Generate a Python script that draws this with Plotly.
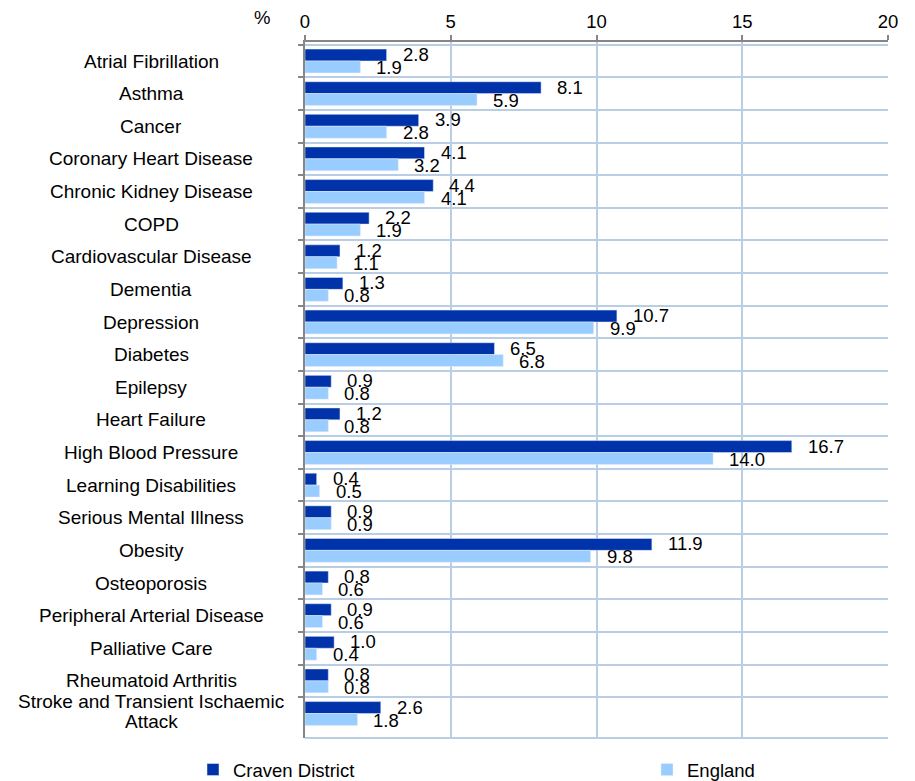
import plotly.graph_objects as go

categories = [
    "Atrial Fibrillation", "Asthma", "Cancer", "Coronary Heart Disease",
    "Chronic Kidney Disease", "COPD", "Cardiovascular Disease", "Dementia",
    "Depression", "Diabetes", "Epilepsy", "Heart Failure",
    "High Blood Pressure", "Learning Disabilities", "Serious Mental Illness",
    "Obesity", "Osteoporosis", "Peripheral Arterial Disease",
    "Palliative Care", "Rheumatoid Arthritis",
    "Stroke and Transient Ischaemic<br>Attack",
]
craven = [2.8, 8.1, 3.9, 4.1, 4.4, 2.2, 1.2, 1.3, 10.7, 6.5, 0.9, 1.2,
          16.7, 0.4, 0.9, 11.9, 0.8, 0.9, 1.0, 0.8, 2.6]
england = [1.9, 5.9, 2.8, 3.2, 4.1, 1.9, 1.1, 0.8, 9.9, 6.8, 0.8, 0.8,
           14.0, 0.5, 0.9, 9.8, 0.6, 0.6, 0.4, 0.8, 1.8]
x_ticks = [0, 5, 10, 15, 20]

DARK = "#0033AA"
LIGHT = "#99CCFF"
GRID = "#B9CDE5"
AXIS = "#868686"
FONT = "Liberation Sans, Arial, sans-serif"
FS = 19
FS_NUM = 18.5

# page body adds an 8px offset, so the figure is 8px smaller
OFF = 8
W, H = 915 - OFF, 781 - OFF
ML, MR, MT, MB = 305 - OFF, 27, 42 - OFF, 43
PW = W - ML - MR
PH = H - MT - MB


def px_x(sx):
    return (sx - OFF - ML) / PW


def px_y(sy):
    return (H - MB - (sy - OFF)) / PH


fig = go.Figure()
fig.add_trace(go.Bar(y=categories, x=craven, name="Craven District",
                     orientation="h", marker_color=DARK, legend="legend"))
fig.add_trace(go.Bar(y=categories, x=england, name="England",
                     orientation="h", marker_color=LIGHT, legend="legend2"))

annotations = []
for cat in categories:
    lines = cat.split("<br>")
    n = len(lines)
    for i, line in enumerate(lines):
        shift = ((n - 1) / 2 - i) * 20 + (2 if n > 1 else 0)
        annotations.append(dict(x=px_x(151), y=cat, xref="paper", yref="y",
                                text=line, showarrow=False, xanchor="center",
                                yshift=shift,
                                font=dict(size=FS, color="black", family=FONT)))
for cat, v in zip(categories, craven):
    annotations.append(dict(x=v, y=cat, text=f"{v:.1f}", showarrow=False,
                            xanchor="left", xshift=14, yshift=6.5,
                            font=dict(size=FS_NUM, color="black", family=FONT)))
for cat, v in zip(categories, england):
    annotations.append(dict(x=v, y=cat, text=f"{v:.1f}", showarrow=False,
                            xanchor="left", xshift=14, yshift=-6.5,
                            font=dict(size=FS_NUM, color="black", family=FONT)))
annotations.append(dict(x=px_x(262), y=px_y(18), xref="paper", yref="paper",
                        text="%", showarrow=False, xanchor="center",
                        yanchor="middle",
                        font=dict(size=FS_NUM, color="black", family=FONT)))

legend_common = dict(orientation="h", yanchor="middle", xanchor="left",
                     font=dict(size=FS_NUM, family=FONT, color="black"),
                     bgcolor="rgba(0,0,0,0)")

fig.update_layout(
    width=W, height=H,
    margin=dict(l=ML, r=MR, t=MT, b=MB, autoexpand=False),
    paper_bgcolor="white", plot_bgcolor="white",
    barmode="group", bargap=0.27, bargroupgap=0,
    font=dict(family=FONT, size=FS, color="black"),
    annotations=annotations,
    showlegend=True,
    legend=dict(x=px_x(193), y=px_y(770), **legend_common),
    legend2=dict(x=px_x(647), y=px_y(770), **legend_common),
    xaxis=dict(side="top", range=[0, 20], tickvals=x_ticks,
               ticktext=[str(t) for t in x_ticks], automargin=False,
               showgrid=True, gridcolor=GRID, gridwidth=2,
               showline=True, linecolor=AXIS, linewidth=2,
               ticks="outside", ticklen=5, tickcolor=AXIS, tickwidth=2,
               tickfont=dict(size=FS_NUM), zeroline=False, fixedrange=True),
    yaxis=dict(autorange="reversed", tickson="boundaries", automargin=False,
               showgrid=True, gridcolor=GRID, gridwidth=2,
               showline=True, linecolor=AXIS, linewidth=2,
               ticks="outside", ticklen=5, tickcolor=AXIS, tickwidth=2,
               showticklabels=False, fixedrange=True),
)
fig.add_shape(type="line", xref="paper", yref="paper", x0=0, x1=1, y0=0, y1=0,
              line=dict(color=GRID, width=2), layer="below")

fig.write_html("out.html")
